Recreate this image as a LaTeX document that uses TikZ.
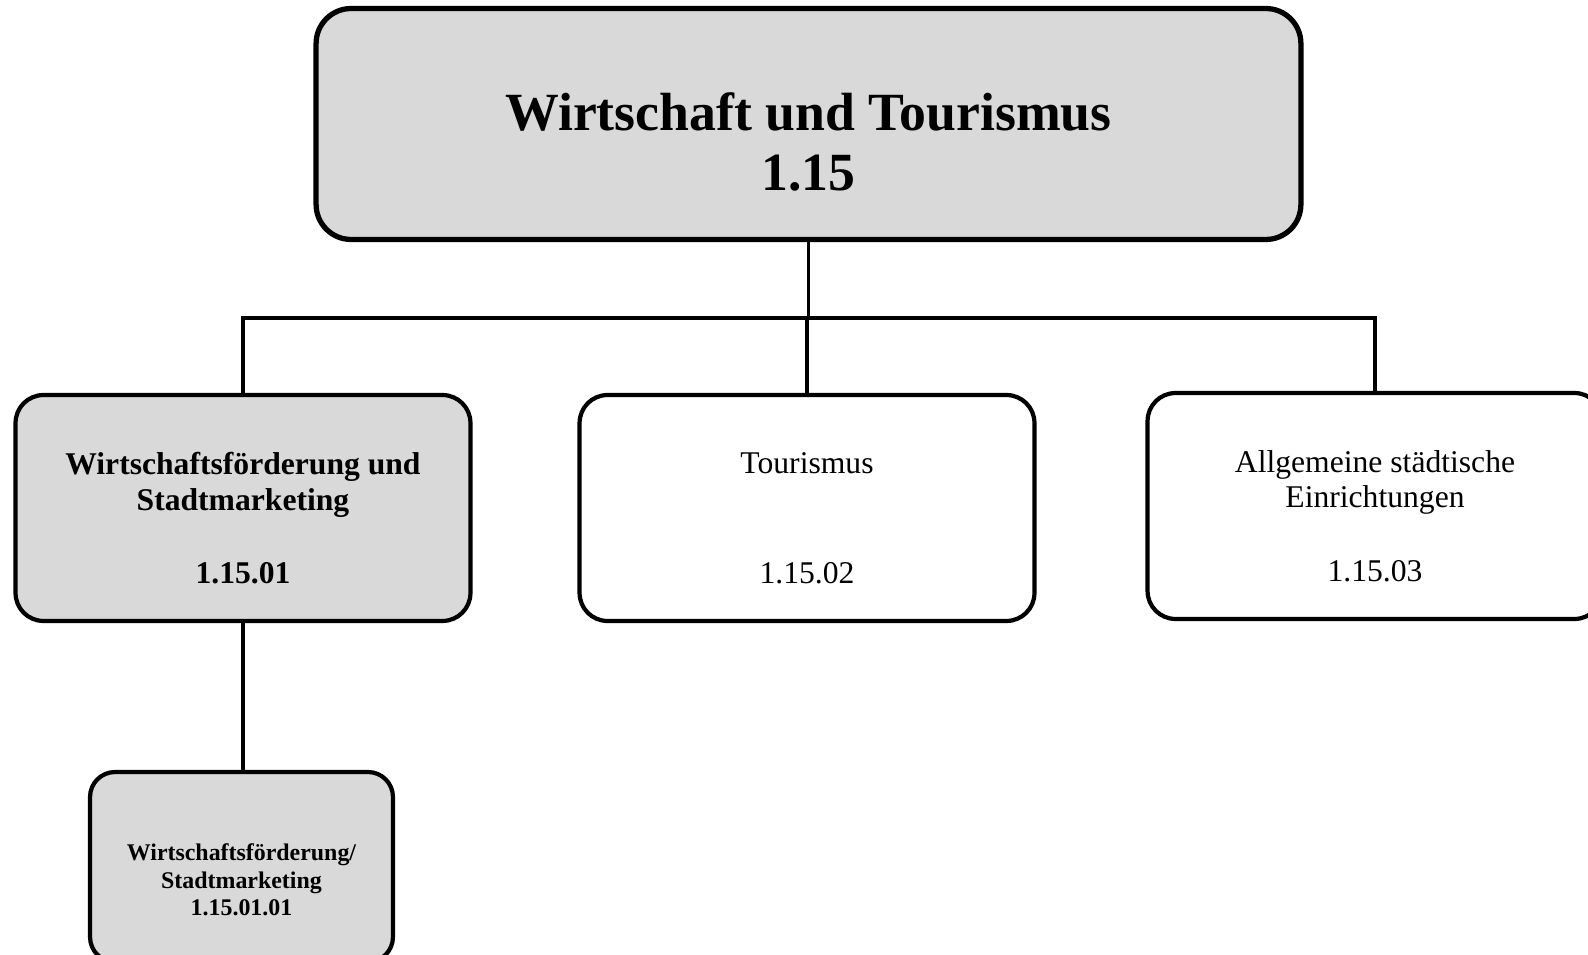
\documentclass[tikz,border=0pt]{standalone}
\usepackage{fontspec}
\setmainfont{Liberation Serif}
\definecolor{boxgray}{RGB}{217,217,217}

\begin{document}
\begin{tikzpicture}[x=0.02cm, y=-0.02cm,
  box/.style={draw, rounded corners=0.56cm, line width=2.4pt, minimum width=9.1cm, minimum height=4.52cm},
  conn/.style={line width=1.9pt},
  txt/.style={align=center, font=\fontsize{18}{20.4}\selectfont},
  txtbold/.style={align=center, font=\fontsize{18}{20.4}\selectfont\bfseries}]

\useasboundingbox (0,0) rectangle (1588,955);

% Main box
\node[box, fill=boxgray, rounded corners=0.7cm, line width=3pt,
      minimum width=19.7cm, minimum height=4.62cm] (wt) at (808.5,124) {};
\node[align=center, font=\fontsize{30.6}{34.6}\selectfont\bfseries] (wt-label) at (808.5,142)
  {Wirtschaft und Tourismus\\1.15};

% Second level
\node[box, fill=boxgray] (wf) at (243,508) {};
\node[txtbold] (wf-label) at (243,518)
  {Wirtschaftsförderung und\\Stadtmarketing\\[21.5pt]1.15.01};

\node[box] (tour) at (807,508) {};
\node[txt] (tour-label) at (807,518) {Tourismus\\[42pt]1.15.02};

\node[box] (ein) at (1375,506) {};
\node[txt] (ein-label) at (1375,516)
  {Allgemeine städtische\\Einrichtungen\\[21.5pt]1.15.03};

% Third level
\node[box, fill=boxgray, rounded corners=0.5cm,
      minimum width=6.06cm, minimum height=3.8cm] (wfsm) at (241.5,867) {};
\node[align=center, font=\fontsize{13.6}{15.6}\selectfont\bfseries] (wfsm-label) at (241.5,880)
  {Wirtschaftsförderung/\\Stadtmarketing\\1.15.01.01};

% Connectors
\coordinate (bar) at (808,318);
\draw[conn] (wt.south) -- (wt.south |- bar);
\draw[conn] (wf.north) -- (wf.north |- bar) -- (ein.north |- bar) -- (ein.north);
\draw[conn] (tour.north) -- (tour.north |- bar);
\draw[conn] (wf.south) -- (wf.south |- wfsm.north);

\end{tikzpicture}
\end{document}
